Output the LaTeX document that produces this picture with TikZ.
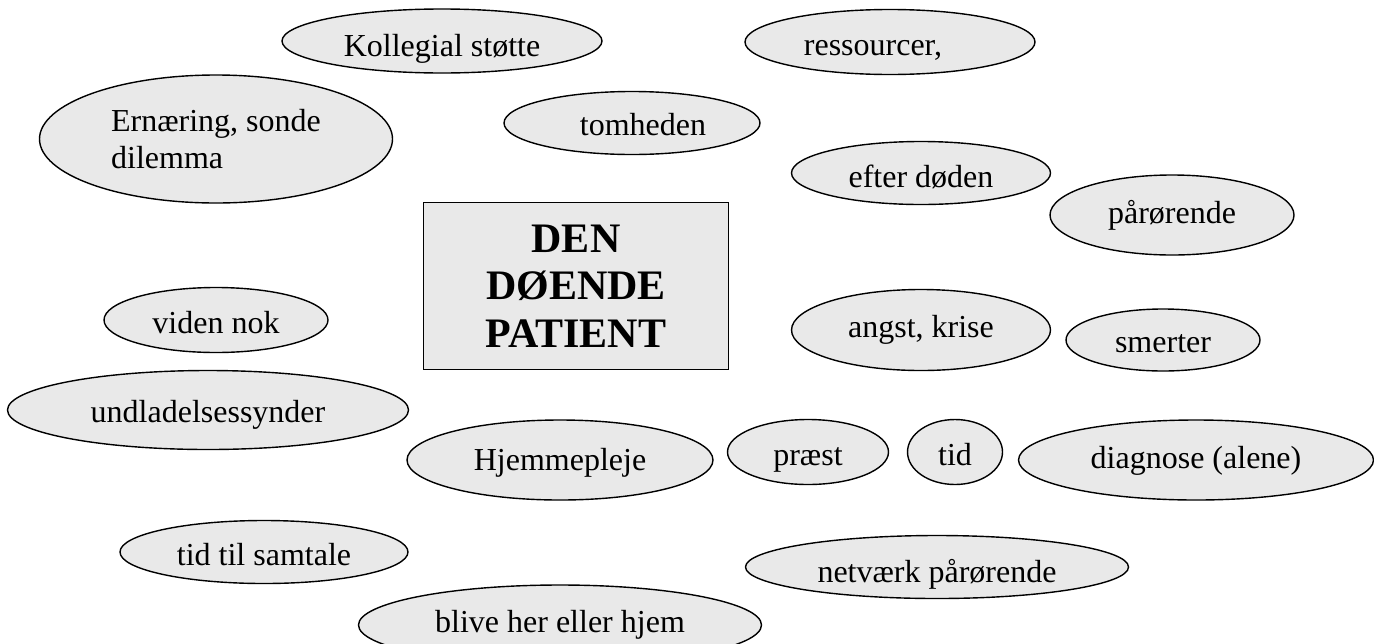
\documentclass[tikz,border=0pt]{standalone}
\usepackage{fontspec}
\setmainfont{Liberation Serif}
\usetikzlibrary{shapes.geometric}
\definecolor{bubblefill}{RGB}{233,233,233}
\tikzset{
  bubble/.style={ellipse,draw,fill=bubblefill,line width=0.7pt,inner sep=0pt,
    font=\fontsize{16}{18.5}\selectfont},
  esize/.style 2 args={minimum width=#1*0.5pt,minimum height=#2*0.5pt},
  tb/.style={text height=#1pt,text depth=0pt},
  centrebox/.style={rectangle,draw,fill=bubblefill,line width=0.7pt,inner sep=0pt,
    align=center,font=\fontsize{21}{23.75}\selectfont\bfseries}
}

\begin{document}
\begin{tikzpicture}[x=0.5pt,y=-0.5pt]
\useasboundingbox (0,0) rectangle (1374,643);
% top row
\node[bubble,esize={320}{64},tb=15] (kollegial) at (442,41) {Kollegial støtte};
\node[bubble,esize={290}{65},tb=13] (ressourcer) at (890,42) {ressourcer,\hspace*{17pt}};
\node[bubble,esize={353}{128},align=left] (ernaering) at (216,139) {Ernæring, sonde\\dilemma};
\node[bubble,esize={256}{63},tb=12] (tomheden) at (632,123) {\hspace*{11pt}tomheden};
\node[bubble,esize={259}{63},tb=14] (efter) at (921,173) {efter døden};
\node[bubble,esize={244}{80},tb=8] (paaroerende) at (1172,215) {pårørende};
% the patient in the middle
\node[centrebox,minimum width=152.5pt,minimum height=83.5pt] (patient) at (576,286) {DEN\\DØENDE\\PATIENT};
% middle row
\node[bubble,esize={224}{65},tb=13] (viden) at (216,320) {viden nok};
\node[bubble,esize={259}{81},tb=7] (angst) at (921,330) {angst, krise};
\node[bubble,esize={194}{62},tb=12] (smerter) at (1163,340) {smerter};
\node[bubble,esize={401}{79},tb=12] (undladelse) at (208,410) {undladelsessynder};
\node[bubble,esize={306}{80},tb=10] (hjemmepleje) at (560,460) {Hjemmepleje};
\node[bubble,esize={161}{65},tb=13] (praest) at (808,452) {præst};
\node[bubble,esize={95}{65},tb=13] (tid) at (955,452) {tid};
\node[bubble,esize={355}{80},tb=8] (diagnose) at (1196,460) {diagnose (alene)};
% bottom row
\node[bubble,esize={288}{63},tb=13] (samtale) at (264,552) {tid til samtale};
\node[bubble,esize={383}{63},tb=15] (netvaerk) at (937,567) {netværk pårørende};
\node[bubble,esize={403}{80},tb=7] (blive) at (560,625) {blive her eller hjem};
\end{tikzpicture}
\end{document}
